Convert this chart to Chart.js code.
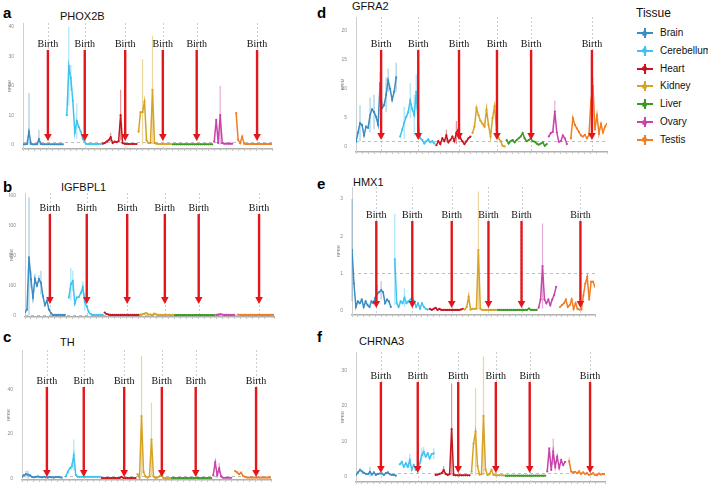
<!DOCTYPE html>
<html>
<head>
<meta charset="utf-8">
<script src="https://cdn.jsdelivr.net/npm/chart.js@4.4.1/dist/chart.umd.min.js"></script>
<style>
  body { margin: 0; background: #fff; width: 708px; height: 486px; position: relative; overflow: hidden;
         font-family: "Liberation Sans", Arial, sans-serif; }
  canvas { position: absolute; }
  .lbl { position: absolute; font-weight: bold; font-size: 15px; line-height: 15px; color: #000; }
  .gene { position: absolute; font-size: 11px; line-height: 11px; color: #111; white-space: nowrap; }
  .legTitle { position: absolute; left: 636px; top: 7px; font-size: 12px; line-height: 12px; color: #111; }
  .legItem { position: absolute; left: 636px; height: 12px; width: 80px; }
  .legItem .h { position: absolute; left: 1px; top: 5px; width: 16px; height: 2px; }
  .legItem .v { position: absolute; left: 8px; top: 1px; width: 2px; height: 10px; }
  .legItem .d { position: absolute; left: 6px; top: 3.5px; width: 5px; height: 5px; border-radius: 50%; }
  .legItem span { position: absolute; left: 24px; top: 1px; font-size: 10px; line-height: 10px; color: #111; white-space: nowrap; }
</style>
</head>
<body>

<div class="lbl" style="left:3px;top:5px">a</div>
<div class="lbl" style="left:3px;top:179px">b</div>
<div class="lbl" style="left:3px;top:329px">c</div>
<div class="lbl" style="left:317px;top:5px">d</div>
<div class="lbl" style="left:317px;top:176px">e</div>
<div class="lbl" style="left:317px;top:329px">f</div>

<div class="gene" style="left:60px;top:11px">PHOX2B</div>
<div class="gene" style="left:61px;top:182px">IGFBPL1</div>
<div class="gene" style="left:60px;top:337px">TH</div>
<div class="gene" style="left:352px;top:1px">GFRA2</div>
<div class="gene" style="left:353px;top:177px">HMX1</div>
<div class="gene" style="left:359px;top:336px">CHRNA3</div>

<div class="legTitle">Tissue</div>
<div id="legend"></div>

<canvas id="cA"></canvas>
<canvas id="cB"></canvas>
<canvas id="cC"></canvas>
<canvas id="cD"></canvas>
<canvas id="cE"></canvas>
<canvas id="cF"></canvas>

<script>
// tissues, colours and where each tissue's samples sit along the shared x axis
const tissues = ['Brain', 'Cerebellum', 'Heart', 'Kidney', 'Liver', 'Ovary', 'Testis'];
const tissueColors = ['#3b8dc3', '#3ec3ef', '#c8141e', '#d6a325', '#3a9a22', '#c844ab', '#f07e24'];
const tissueStart = [0, 22, 40, 58, 75, 96, 107];
const birthIdx = [12.5, 31, 51.3, 70.2, 87.2, null, 117.5];

// RPKM per tissue (rows follow `tissues`)
const phox2b = [
  [0.1,0.1,0.2,4.4,0.2,0.1,0.1,0.1,1.8,0.2,0.1,0.1,0.1,0.1,0.1,0.1,0.1,0.1,0.1,0.1,0.1],
  [10,26.6,22.6,15,4,8,6,4.4,2,0.8,0.2,0.2,0.2,0.2,0.2,0.2,0.2,0.2],
  [0.3,0.5,1,1.5,2.5,0.5,1,0.8,1.2,10,0.5,0.3,0.2,0.2,0.2,0.2,0.2,0.2],
  [4.4,11,11,14.6,1.5,0.5,0.5,18.6,0.5,0.3,0.2,0.2,0.2,0.2,0.2,0.2,0.2],
  [0.1,0.1,0.1,0.1,0.1,0.1,0.1,0.1,0.1,0.1,0.1,0.1,0.1,0.1,0.1,0.1,0.1,0.1,0.1,0.1,0.1],
  [1,8.4,0.5,10,0.5,0.3,0.3,0.3,0.3,0.3],
  [10.7,1.6,0.5,2.7,0.3,0.2,0.2,0.2,0.2,0.2,0.2,0.2,0.2,0.2,0.2,0.2,0.2,0.2,0.2]
];
const phox2bErr = [[0,3,17.5],[0,8,5],[1,1,40],[1,2,27],[1,5,14],[2,4,4],[2,9,18.6],[3,2,29],[3,7,37],[5,3,20]];
const phox2bTicks = [0, 10, 20, 30, 40];

const igfbpl1 = [
  [11,20,195,120,60,122,100,122,110,65,35,50,20,8,2,2,2,2,2,2,2],
  [60,105,115,40,60,62,75,95,45,30,12,5,2,2,2,2,2,2],
  [10,5,3,2,2,2,2,2,2,2,2,2,2,2,2,2,2,2],
  [3,4,6,8,3,3,2,6,3,2,2,2,2,2,2,2,2],
  [1.5,1.5,1.5,1.5,1.5,1.5,1.5,1.5,1.5,1.5,1.5,1.5,1.5,1.5,1.5,1.5,1.5,1.5,1.5,1.5,1.5],
  [2,3,4,3,2,2,2,2,2,2],
  [3,2,2,2,2,2,2,2,2,2,2,2,2,2,2,2,2,2,2]
];
const igfbpl1Err = [[0,2,395],[0,3,150],[0,5,140],[0,7,135],[0,8,150],[1,1,160],[1,2,150],[1,7,115],[1,8,75]];
const igfbpl1Ticks = [0, 100, 200, 300, 400];

const th = [
  [0.8,1.6,2,1.8,1.5,0.8,0.6,0.8,1,0.7,0.6,0.8,0.6,0.5,0.8,0.6,0.5,0.7,0.8,0.6,0.5],
  [1,3,4.6,5.4,10.6,1.6,0.8,0.8,0.8,0.8,0.8,0.8,0.8,0.8,0.8,0.8,0.8,0.8],
  [0.3,0.3,0.3,0.3,0.3,0.3,0.3,0.3,0.3,0.3,0.8,0.3,0.3,0.3,0.3,0.3,0.3,0.3],
  [2,0.5,28,3,1,0.5,1,17.5,1,0.3,0.5,1,2,0.3,0.3,0.3,0.3],
  [0.3,0.3,0.3,0.3,0.3,0.3,0.3,0.3,0.3,0.3,0.3,0.3,0.3,0.3,0.3,0.3,0.3,0.3,0.3,0.3,0.3],
  [1.5,7.3,1.6,4.6,1,0.4,0.4,0.4,0.4,0.4],
  [3.4,2.8,2,2.7,1.2,0.8,0.5,0.5,0.5,0.5,0.5,0.5,0.5,0.5,0.5,0.5,0.5,0.5,0.5]
];
const thErr = [[0,2,3.5],[0,3,3.5],[1,4,17.5],[1,3,7],[3,2,55],[3,7,34],[5,3,7]];
const thTicks = [0, 20, 40];

const gfra2 = [
  [0.9,2.5,4.1,3.8,2,3.5,3.3,5.5,6.5,6,5.2,3.8,11,6.7,7.2,9,11.5,10,8.1,9.5,12],
  [1.8,3,4.2,5.2,6,8,6.5,5.5,9.5,4,1.5,1.2,0.6,1,1.3,0.8,1,0.6],
  [0.3,1,0.5,1.5,1,2,0.8,1.2,1.8,1,2.5,3,1.5,1,0.5,1,1.5,1.8],
  [2.4,3.5,6.7,5.5,4.5,4,3.5,6.4,3.8,1.8,5,7,2.9,1.5,1,0.2,0.1],
  [1.2,0.6,1,1.2,0.8,1.2,1.5,1.8,2.4,1.5,1,1.2,1.5,1,0.9,0.6,0.4,0.6,0.8,0.2,0.5],
  [1.8,2.4,2.6,6.1,2.5,0.9,1,2,1.5,0.5],
  [1.5,5,3.8,3.2,2.6,2,1.8,2.1,1.5,2,8,10.5,3,5.5,2.3,4,2.5,3.5,4]
];
const gfra2Err = [[0,2,7.2],[0,7,8.5],[0,9,9],[0,12,13],[0,15,12],[0,16,13.5],[0,20,14.5],
  [1,2,7],[1,5,11],[1,7,9],[1,8,12.5],[2,5,3],[2,10,4.5],[2,11,3.5],[3,2,7.2],[3,7,7.5],[3,11,7.5],
  [5,3,8],[6,11,12]];
const gfra2Ticks = [0, 5, 10, 15, 20];

const hmx1 = [
  [1.63,0.73,0.1,0.25,0.2,0.3,0.1,0.25,0.15,0.1,0.25,0.2,0.35,0.45,0.5,0.55,0.5,0.2,0.3,0.25,0.1],
  [1.38,0.2,0.1,0.25,0.2,0.35,0.2,0.25,0.3,0.35,0.25,0.1,0.2,0.06,0.2,0.1,0.05,0.03],
  [0.05,0.02,0.05,0.08,0.02,0.05,0.02,0.02,0.02,0.02,0.02,0.02,0.02,0.02,0.02,0.02,0.03,0.05],
  [0.03,0.1,0.37,0.03,0.05,0.05,0.05,1.63,0.05,0.02,0.02,0.02,0.02,0.02,0.02,0.02,0.02],
  [0.02,0.02,0.02,0.02,0.02,0.02,0.02,0.02,0.02,0.02,0.02,0.02,0.02,0.02,0.02,0.02,0.06,0.02,0.02,0.02,0.02],
  [0.08,0.3,1.2,0.3,0.2,0.3,0.15,0.3,0.42,0.64],
  [0.1,0.15,0.2,0.3,0.1,0.15,0.3,0.05,0.2,0.05,0.03,0.03,0.4,0.73,0.9,0.3,0.78,0.78,0.64]
];
const hmx1Err = [[0,0,3.0],[0,13,0.7],[0,15,0.8],[1,0,2.6],[1,5,0.6],[1,9,0.55],[3,2,0.5],[3,7,3.2],
  [5,2,2.34],[6,6,0.35],[6,14,1.0]];
const hmx1Ticks = [0, 1, 2, 3];

const chrna3 = [
  [0.5,1.2,1.9,1.5,1.1,0.8,0.7,1.4,0.6,1.2,0.5,0.8,0.9,0.9,0.5,1,1.2,0.7,0.5,0.5,0.3],
  [3.5,4.2,2.8,3.8,2.8,4.7,2,3.3,1.9,2.4,3.8,6.1,7,5.7,6.6,5.2,6.4,6.6],
  [0.5,0.6,0.8,1,1.9,0.8,0.5,0.7,13.5,0.5,0.4,0.4,0.4,0.4,0.4,0.4,0.4,0.4],
  [1.4,9.4,12.7,3,0.6,0.7,17.2,2,0.5,0.7,1.9,0.5,0.4,0.4,0.4,0.4,0.4],
  [0.3,0.3,0.3,0.3,0.3,0.3,0.3,0.3,0.3,0.3,0.3,0.3,0.3,0.3,0.3,0.3,0.3,0.3,0.3,0.3,0.3],
  [1.5,8,1.9,7.1,2.8,5.7,2.5,4.7,3.3,4.2],
  [4.4,1.5,1.2,1.4,1,1.5,0.8,1.2,0.8,1,0.5,0.7,1,0.5,0.4,0.9,0.6,0.8,0.7]
];
const chrna3Err = [[0,2,2.5],[0,7,2.8],[1,5,6.5],[1,11,8.2],[1,12,8.5],[1,17,8.2],[2,4,3],[2,8,26.4],
  [3,2,25],[3,6,34],[5,3,10.8],[6,0,5.5]];
const chrna3Ticks = [0, 10, 20, 30];

// layout of the six panels: plot area [left, top, right, bottom] in page px
const panels = [
  { canvas: 'cA', vals: phox2b,  err: phox2bErr,  ticks: phox2bTicks,  yMin: -1.5,  yMax: 41.3, area: [23, 23, 273, 149],  textY: 21, tipY: 8 },
  { canvas: 'cB', vals: igfbpl1, err: igfbpl1Err, ticks: igfbpl1Ticks, yMin: -5,    yMax: 410,  area: [25, 193, 275, 317], textY: 15, tipY: 13 },
  { canvas: 'cC', vals: th,      err: thErr,      ticks: thTicks,      yMin: -0.6,  yMax: 57.6, area: [22, 350, 272, 480], textY: 31, tipY: 3 },
  { canvas: 'cD', vals: gfra2,   err: gfra2Err,   ticks: gfra2Ticks,   yMin: -0.86, yMax: 22.4, area: [356, 17, 608, 152], textY: 27, tipY: 12 },
  { canvas: 'cE', vals: hmx1,    err: hmx1Err,    ticks: hmx1Ticks,    yMin: -0.115,yMax: 3.32, area: [352, 187, 596, 315], textY: 28, tipY: 7 },
  { canvas: 'cF', vals: chrna3,  err: chrna3Err,  ticks: chrna3Ticks,  yMin: -1.5,  yMax: 35.3, area: [356, 352, 606, 482], textY: 24, tipY: 9 }
];

const Y_W = 16, X_H = 6, PAD_T = 4, PAD_R = 3;

function makeOverlay(p) {
  return {
    id: 'overlay',
    beforeDatasetsDraw(chart) {
      const { ctx, chartArea: a, scales: { x, y } } = chart;
      ctx.save();
      // birth guides
      ctx.strokeStyle = '#cfcfcf';
      ctx.lineWidth = 1;
      ctx.setLineDash([2, 2]);
      birthIdx.forEach(b => {
        if (b == null) return;
        const px = Math.round(x.getPixelForValue(b)) + 0.5;
        ctx.beginPath(); ctx.moveTo(px, a.top); ctx.lineTo(px, a.bottom); ctx.stroke();
      });
      // RPKM = 1 threshold
      ctx.strokeStyle = '#bdbdbd';
      ctx.setLineDash([3, 3]);
      const py = Math.round(y.getPixelForValue(1)) + 0.5;
      ctx.beginPath(); ctx.moveTo(a.left, py); ctx.lineTo(a.right, py); ctx.stroke();
      ctx.setLineDash([]);
      // error bars
      ctx.globalAlpha = 0.45;
      ctx.lineWidth = 1.2;
      p.err.forEach(([t, i, hi]) => {
        const v = p.vals[t][i];
        const lo = Math.max(0, 2 * v - hi);
        const px = x.getPixelForValue(tissueStart[t] + i);
        ctx.strokeStyle = tissueColors[t];
        ctx.beginPath(); ctx.moveTo(px, y.getPixelForValue(lo)); ctx.lineTo(px, y.getPixelForValue(hi)); ctx.stroke();
      });
      ctx.restore();
    },
    afterDatasetsDraw(chart) {
      const { ctx, chartArea: a, scales: { x } } = chart;
      ctx.save();
      ctx.font = '10px "Liberation Serif", "Times New Roman", serif';
      ctx.textAlign = 'center';
      ctx.textBaseline = 'middle';
      birthIdx.forEach(b => {
        if (b == null) return;
        const px = x.getPixelForValue(b);
        const ty = a.top + p.textY;
        const tip = a.bottom - p.tipY;
        ctx.fillStyle = '#111';
        ctx.fillText('Birth', px, ty);
        ctx.strokeStyle = '#e5161b';
        ctx.fillStyle = '#e5161b';
        ctx.lineWidth = 2.4;
        ctx.beginPath(); ctx.moveTo(px, ty + 6); ctx.lineTo(px, tip - 5); ctx.stroke();
        ctx.beginPath();
        ctx.moveTo(px - 3.8, tip - 7); ctx.lineTo(px + 3.8, tip - 7); ctx.lineTo(px, tip);
        ctx.closePath(); ctx.fill();
      });
      ctx.restore();
    }
  };
}

panels.forEach(p => {
  const [l, t, r, b] = p.area;
  const cv = document.getElementById(p.canvas);
  const left = l - Y_W, top = t - PAD_T;
  cv.width = r + PAD_R - left;
  cv.height = b + X_H - top;
  cv.style.left = left + 'px';
  cv.style.top = top + 'px';

  const datasets = p.vals.map((arr, k) => ({
    label: tissues[k],
    data: arr.map((v, i) => ({ x: tissueStart[k] + i, y: v })),
    borderColor: tissueColors[k],
    backgroundColor: tissueColors[k],
    borderWidth: 1.5,
    pointRadius: 1.1,
    pointBorderWidth: 0,
    tension: 0
  }));

  new Chart(cv, {
    type: 'line',
    data: { datasets },
    plugins: [makeOverlay(p)],
    options: {
      responsive: false,
      animation: false,
      events: [],
      layout: { padding: { top: PAD_T, right: PAD_R, left: 0, bottom: 0 } },
      plugins: { legend: { display: false }, tooltip: { enabled: false } },
      scales: {
        x: {
          type: 'linear', min: 0, max: 125,
          afterFit: s => { s.height = X_H; },
          ticks: { display: false, stepSize: 3 },
          grid: { display: true, drawOnChartArea: false, drawTicks: true, tickLength: 2, color: '#c4c4c4' },
          border: { color: '#b0b0b0', width: 1.5 }
        },
        y: {
          min: p.yMin, max: p.yMax,
          afterFit: s => { s.width = Y_W; },
          afterBuildTicks: s => { s.ticks = p.ticks.map(v => ({ value: v })); },
          ticks: { font: { size: 5 }, color: '#8a8a8a', padding: 1 },
          grid: { display: false },
          border: { color: '#cfcfcf', width: 1 },
          title: { display: true, text: 'RPKM', font: { size: 4 }, color: '#777', padding: 0 }
        }
      }
    }
  });
});

// legend
const leg = document.getElementById('legend');
tissues.forEach((name, k) => {
  const item = document.createElement('div');
  item.className = 'legItem';
  item.style.top = (27 + k * 17.8) + 'px';
  const c = tissueColors[k];
  item.innerHTML = '<div class="h" style="background:' + c + '"></div>' +
                   '<div class="v" style="background:' + c + '"></div>' +
                   '<div class="d" style="background:' + c + '"></div>' +
                   '<span>' + name + '</span>';
  leg.appendChild(item);
});
</script>
</body>
</html>
